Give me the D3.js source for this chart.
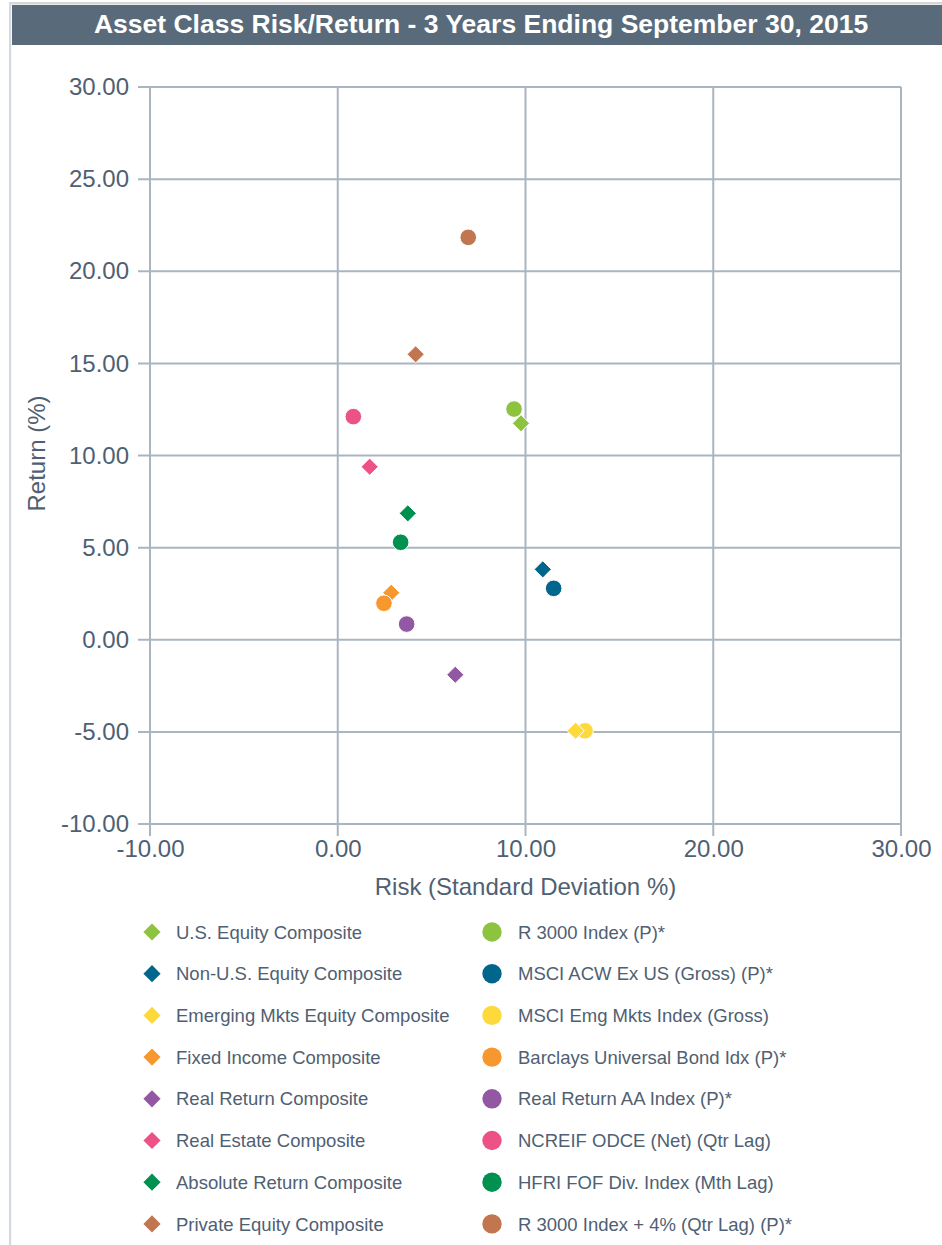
<!DOCTYPE html>
<html>
<head>
<meta charset="utf-8">
<script src="https://cdn.jsdelivr.net/npm/d3@7"></script>
<style>
  html, body { margin: 0; padding: 0; background: #ffffff; }
  svg { display: block; font-family: "Liberation Sans", Arial, sans-serif; }
</style>
</head>
<body>
<svg id="chart" width="942" height="1245"></svg>
<script>
// Composite (diamond) and benchmark (circle) series: [risk, return]
const compositeNames = [
  "U.S. Equity Composite",
  "Non-U.S. Equity Composite",
  "Emerging Mkts Equity Composite",
  "Fixed Income Composite",
  "Real Return Composite",
  "Real Estate Composite",
  "Absolute Return Composite",
  "Private Equity Composite"
];
const benchmarkNames = [
  "R 3000 Index (P)*",
  "MSCI ACW Ex US (Gross) (P)*",
  "MSCI Emg Mkts Index (Gross)",
  "Barclays Universal Bond Idx (P)*",
  "Real Return AA Index (P)*",
  "NCREIF ODCE (Net) (Qtr Lag)",
  "HFRI FOF Div. Index (Mth Lag)",
  "R 3000 Index + 4% (Qtr Lag) (P)*"
];
const compositeRisk   = [9.76, 10.92, 12.67, 2.85, 6.26, 1.70, 3.73, 4.15];
const compositeReturn = [11.75, 3.82, -4.94, 2.55, -1.90, 9.39, 6.86, 15.49];
const benchmarkRisk   = [9.39, 11.50, 13.17, 2.46, 3.67, 0.83, 3.35, 6.95];
const benchmarkReturn = [12.52, 2.79, -4.94, 1.98, 0.85, 12.11, 5.29, 21.84];
const seriesColors = ["#8dc33f", "#00668c", "#fdd93b", "#f7982f", "#9358a3", "#ec5286", "#00904f", "#c27650"];

const xTicks = [-10, 0, 10, 20, 30];
const yTicks = [-10, -5, 0, 5, 10, 15, 20, 25, 30];

const titleText = "Asset Class Risk/Return - 3 Years Ending September 30, 2015";
const xTitle = "Risk (Standard Deviation %)";
const yTitle = "Return (%)";

const svg = d3.select("#chart");
const textColor = "#4f6072";
const gridColor = "#aab5c0";
const fmt = d => d3.format(".2f")(d).replace("\u2212", "-");

// frame
svg.append("rect").attr("x", 9).attr("y", 2).attr("width", 933).attr("height", 2.5).attr("fill", "#d6d6d6");
svg.append("rect").attr("x", 9).attr("y", 2).attr("width", 2.2).attr("height", 1243).attr("fill", "#d2d9e1");

// title bar
svg.append("rect").attr("x", 12).attr("y", 5).attr("width", 930).attr("height", 40).attr("fill", "#596b7b");
svg.append("text")
  .attr("x", 481).attr("y", 23).attr("dy", "0.36em")
  .attr("text-anchor", "middle")
  .attr("fill", "#ffffff")
  .attr("font-weight", "bold")
  .attr("font-size", 26.5)
  .text(titleText);

const x = d3.scaleLinear().domain([-10, 30]).range([150, 901]);
const y = d3.scaleLinear().domain([-10, 30]).range([824, 87]);

// grid
const grid = svg.append("g");
grid.selectAll("line.v").data(xTicks).join("line")
  .attr("x1", d => x(d)).attr("x2", d => x(d))
  .attr("y1", y(30)).attr("y2", y(-10) + 12)
  .attr("stroke", gridColor).attr("stroke-width", 2);
grid.selectAll("line.h").data(yTicks).join("line")
  .attr("x1", x(-10) - 12).attr("x2", x(30))
  .attr("y1", d => y(d)).attr("y2", d => y(d))
  .attr("stroke", gridColor).attr("stroke-width", 2);

// axes labels
const xAxis = d3.axisBottom(x).tickValues(xTicks).tickFormat(fmt).tickSize(0).tickPadding(16);
const gx = svg.append("g").attr("transform", `translate(0,${y(-10)})`).call(xAxis);
gx.select(".domain").remove();
gx.selectAll("text").attr("fill", textColor).attr("font-size", 24).attr("font-family", "Liberation Sans, Arial, sans-serif");

const yAxis = d3.axisLeft(y).tickValues(yTicks).tickFormat(fmt).tickSize(0).tickPadding(21);
const gy = svg.append("g").attr("transform", `translate(${x(-10)},0)`).call(yAxis);
gy.select(".domain").remove();
gy.selectAll("text").attr("fill", textColor).attr("font-size", 24).attr("font-family", "Liberation Sans, Arial, sans-serif");

svg.append("text")
  .attr("x", (x(-10) + x(30)) / 2).attr("y", 886).attr("dy", "0.36em")
  .attr("text-anchor", "middle").attr("fill", textColor).attr("font-size", 24)
  .text(xTitle);
svg.append("text")
  .attr("transform", `translate(36,${(y(-10) + y(30)) / 2 - 2}) rotate(-90)`)
  .attr("dy", "0.36em")
  .attr("text-anchor", "middle").attr("fill", textColor).attr("font-size", 24)
  .text(yTitle);

// points
const diamond = (cx, cy, r) => `M${cx},${cy - r}L${cx + r},${cy}L${cx},${cy + r}L${cx - r},${cy}Z`;
const points = [];
compositeNames.forEach((n, i) => {
  points.push({ kind: "d", i, rx: compositeRisk[i], ry: compositeReturn[i] });
  points.push({ kind: "c", i, rx: benchmarkRisk[i], ry: benchmarkReturn[i] });
});
// emerging markets pair: composite sits above its benchmark
const order = points.slice();
const emD = order.findIndex(p => p.kind === "d" && p.i === 2);
const [emPt] = order.splice(emD, 1);
order.splice(emD + 1, 0, emPt);

const marks = svg.append("g");
order.forEach(p => {
  if (p.kind === "d") {
    marks.append("path")
      .attr("d", diamond(x(p.rx), y(p.ry), 8.6))
      .attr("fill", seriesColors[p.i]).attr("stroke", "#ffffff").attr("stroke-width", 1);
  } else {
    marks.append("circle")
      .attr("cx", x(p.rx)).attr("cy", y(p.ry)).attr("r", 8.3)
      .attr("fill", seriesColors[p.i]).attr("stroke", "#ffffff").attr("stroke-width", 1);
  }
});

// legend
const legendY0 = 932, legendStep = 41.7;
const legend = svg.append("g");
compositeNames.forEach((n, i) => {
  const ly = legendY0 + i * legendStep;
  legend.append("path").attr("d", diamond(152, ly, 8.6)).attr("fill", seriesColors[i]);
  legend.append("text").attr("x", 176).attr("y", ly).attr("dy", "0.36em")
    .attr("fill", textColor).attr("font-size", 18.5).text(n);
});
benchmarkNames.forEach((n, i) => {
  const ly = legendY0 + i * legendStep;
  legend.append("circle").attr("cx", 492).attr("cy", ly).attr("r", 9.7).attr("fill", seriesColors[i]);
  legend.append("text").attr("x", 518).attr("y", ly).attr("dy", "0.36em")
    .attr("fill", textColor).attr("font-size", 18.5).text(n);
});
</script>
</body>
</html>
